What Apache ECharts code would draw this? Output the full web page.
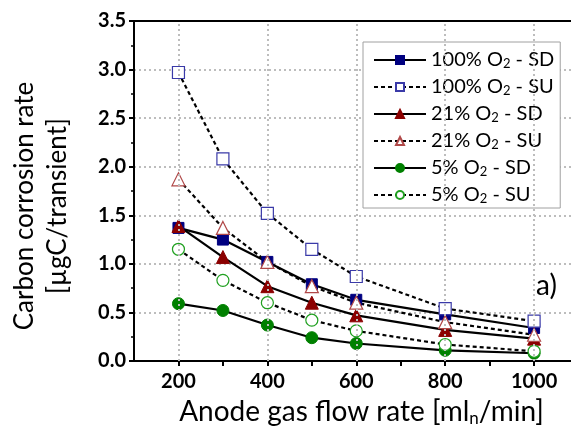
<!DOCTYPE html>
<html>
<head>
<meta charset="utf-8">
<style>html,body{margin:0;padding:0;background:#fff;}#c{width:571px;height:432px;}</style>
<script src="https://cdn.jsdelivr.net/npm/echarts@6/dist/echarts.min.js"></script>
</head>
<body>
<div id="c"></div>
<script>
const flowRates = [200, 300, 400, 500, 600, 800, 1000];
const sd100 = [1.37, 1.25, 1.02, 0.79, 0.63, 0.48, 0.34];
const su100 = [2.97, 2.08, 1.52, 1.15, 0.87, 0.54, 0.41];
const sd21 = [1.39, 1.07, 0.77, 0.60, 0.47, 0.32, 0.23];
const su21 = [1.87, 1.37, 1.02, 0.77, 0.60, 0.40, 0.27];
const sd5 = [0.59, 0.52, 0.37, 0.24, 0.18, 0.11, 0.08];
const su5 = [1.15, 0.83, 0.60, 0.42, 0.31, 0.17, 0.10];
const gridX = [200, 400, 600, 800, 1000];
const seriesNames = ['100% O{s|2} - SD', '100% O{s|2} - SU', '21% O{s|2} - SD', '21% O{s|2} - SU', '5% O{s|2} - SD', '5% O{s|2} - SU'];

const FONT = 'Lato';
function pairs(ys) { return flowRates.map((x, i) => [x, ys[i]]); }

function mk(name, ys, symbol, color, filled, dashed, size) {
  return {
    name: name,
    type: 'line',
    data: pairs(ys),
    symbol: symbol,
    symbolSize: size,
    showAllSymbol: true,
    lineStyle: { color: '#000', width: 2.2, type: dashed ? [4, 3] : 'solid' },
    itemStyle: filled ? { color: color, borderColor: color, borderWidth: 1 }
                      : { color: '#fff', borderColor: color, borderWidth: 1.2 },
    z: 3
  };
}

const chart = echarts.init(document.getElementById('c'));
const series = [
  mk(seriesNames[0], sd100, 'rect', '#000080', true, false, 11),
  mk(seriesNames[1], su100, 'rect', '#3a3aa8', false, true, 12),
  mk(seriesNames[2], sd21, 'triangle', '#8b0000', true, false, 13),
  mk(seriesNames[3], su21, 'triangle', '#b04848', false, true, 13),
  mk(seriesNames[4], sd5, 'circle', '#008000', true, false, 12),
  mk(seriesNames[5], su5, 'circle', '#20a020', false, true, 12)
];
series.push({
  type: 'line', data: [], silent: true,
  markLine: {
    silent: true, symbol: 'none', label: { show: false },
    lineStyle: { color: '#bdbdbd', width: 2, type: [2, 3] },
    data: gridX.map(v => ({ xAxis: v }))
  }
});

chart.setOption({
  animation: false,
  backgroundColor: '#fff',
  grid: { left: 118, right: 0, top: 21, bottom: 70 },
  legend: {
    orient: 'vertical',
    left: 363, top: 42,
    width: 190,
    padding: [5, 6, 3, 10],
    itemGap: 4,
    itemWidth: 52, itemHeight: 10,
    backgroundColor: '#fff',
    borderColor: '#a0a0a0', borderWidth: 1,
    data: seriesNames,
    textStyle: {
      fontFamily: FONT, fontSize: 20, color: '#000', lineHeight: 20,
      rich: { s: { fontFamily: FONT, fontSize: 13, verticalAlign: 'bottom', lineHeight: 14, padding: [10, 0, 0, 0] } }
    }
  },
  xAxis: [{
    type: 'value', min: 100, max: 1083, interval: 100,
    position: 'bottom',
    name: 'Anode gas flow rate [ml{s|n}/min]',
    nameLocation: 'middle', nameGap: 36,
    nameTextStyle: {
      fontFamily: FONT, fontSize: 28, color: '#000', padding: [0, 0, 0, 18],
      rich: { s: { fontFamily: FONT, fontSize: 17, padding: [13, 0, 0, 0] } }
    },
    axisLine: { show: true, onZero: false, lineStyle: { color: '#000', width: 2 } },
    axisTick: { show: true, inside: false, length: 5, lineStyle: { color: '#000', width: 2 } },
    axisLabel: {
      fontFamily: FONT, fontSize: 20, fontWeight: 'bold', color: '#000', margin: 11,
      formatter: v => (v % 200 === 0 ? String(v) : ''),
      showMinLabel: false, showMaxLabel: false
    },
    splitLine: { show: false }
  }, {
    type: 'value', min: 100, max: 1083, position: 'top',
    axisLine: { show: true, onZero: false, lineStyle: { color: '#000', width: 2 } },
    axisTick: { show: false }, axisLabel: { show: false }, splitLine: { show: false }
  }],
  yAxis: {
    type: 'value', min: 0, max: 3.5, interval: 0.5,
    name: 'Carbon corrosion rate\n[µgC/transient]',
    nameLocation: 'middle', nameGap: 60,
    nameTextStyle: { fontFamily: FONT, fontSize: 26, color: '#000', lineHeight: 33, padding: [0, 30, 0, 0] },
    axisLine: { show: true, onZero: false, lineStyle: { color: '#000', width: 2 } },
    axisTick: { show: true, inside: false, length: 5, lineStyle: { color: '#000', width: 2 } },
    minorTick: { show: true, splitNumber: 2, length: 3, lineStyle: { color: '#000', width: 1.5 } },
    axisLabel: { fontFamily: FONT, fontSize: 20, fontWeight: 'bold', color: '#000', margin: 8, formatter: v => v.toFixed(1) },
    splitLine: { show: true, lineStyle: { color: '#bdbdbd', width: 2, type: [2, 3] } }
  },
  graphic: [{
    type: 'text', left: 536, top: 272,
    style: { text: 'a)', fontFamily: FONT, fontSize: 28, fill: '#000' }
  }],
  series: series
});
</script>
</body>
</html>
